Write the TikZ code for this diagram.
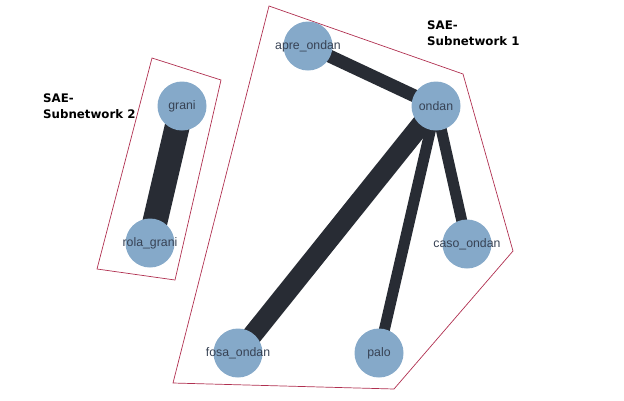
\documentclass[tikz,border=0pt]{standalone}
\usepackage{fontspec}
\setmainfont{Liberation Sans}
\newfontfamily\titlefont{DejaVu Sans}
\usetikzlibrary{backgrounds}
\definecolor{nodefill}{RGB}{133,169,201}
\definecolor{edgecol}{RGB}{40,44,52}
\definecolor{hullcol}{RGB}{176,48,80}
\definecolor{labcol}{RGB}{55,66,84}
\newcommand{\nlab}[1]{\makebox[0pt][c]{#1}}
\tikzset{
  netnode/.style={circle, fill=nodefill, minimum size=49pt, inner sep=0pt, text=labcol, font=\fontsize{12.3}{14}\selectfont},
  netedge/.style={draw=edgecol},
  hull/.style={draw=hullcol, line width=0.7pt, line join=miter},
  grouplabel/.style={anchor=north west, align=left, inner sep=0pt, font=\titlefont\bfseries\fontsize{11.8}{16}\selectfont}
}
\begin{document}
\begin{tikzpicture}[x=1pt, y=-1pt]
\useasboundingbox (0,0) rectangle (624,400);
% hulls
\draw[hull] (269,6) -- (463,74) -- (513,251) -- (394,389) -- (173,383) -- cycle;
\draw[hull] (152,58) -- (221,80) -- (175,280) -- (97,269) -- cycle;
% nodes
\node[netnode] (grani) at (182,106) {\nlab{grani}};
\node[netnode] (rola) at (150,243) {\nlab{rola\_grani}};
\node[netnode] (apre) at (308,46) {\nlab{apre\_ondan}};
\node[netnode] (ondan) at (436,106) {\nlab{ondan}};
\node[netnode] (caso) at (467,244) {\nlab{caso\_ondan}};
\node[netnode] (fosa) at (238,353) {\nlab{fosa\_ondan}};
\node[netnode] (palo) at (379,353) {\nlab{palo}};
% edges
\begin{scope}[on background layer]
\draw[netedge, line width=25pt] (grani.center) -- (rola.center);
\draw[netedge, line width=13pt] (apre.center) -- (ondan.center);
\draw[netedge, line width=20pt] (ondan.center) -- (fosa.center);
\draw[netedge, line width=11pt] (ondan.center) -- (palo.center);
\draw[netedge, line width=11pt] (ondan.center) -- (caso.center);
\end{scope}
% labels
\node[grouplabel] (lab1) at (427,21) {SAE-\\Subnetwork 1};
\node[grouplabel] (lab2) at (43,93.5) {SAE-\\Subnetwork 2};
\end{tikzpicture}
\end{document}
